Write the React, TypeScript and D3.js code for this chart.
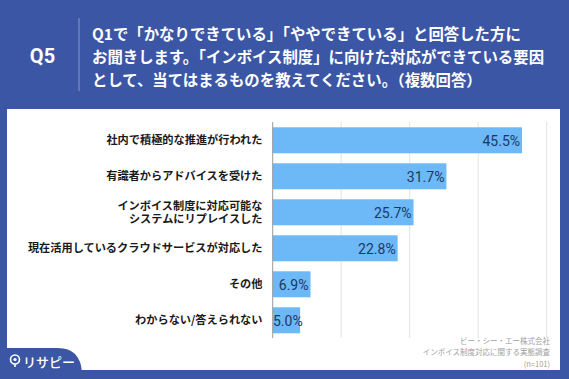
import React from "react";
import * as d3 from "d3";

const categories = [
  ["社内で積極的な推進が行われた"],
  ["有識者からアドバイスを受けた"],
  ["インボイス制度に対応可能な", "システムにリプレイスした"],
  ["現在活用しているクラウドサービスが対応した"],
  ["その他"],
  ["わからない/答えられない"],
];
const values = [45.5, 31.7, 25.7, 22.8, 6.9, 5.0];
const gridTicks = [12.5, 25, 37.5, 50];
const questionLines = [
  "Q1で「かなりできている」「ややできている」と回答した方に",
  "お聞きします。「インボイス制度」に向けた対応ができている要因",
  "として、当てはまるものを教えてください。（複数回答）",
];
const sourceLines = ["ビー・シー・エー株式会社", "インボイス制度対応に関する実態調査", "(n=101)"];

const W = 569;
const H = 379;
const BLUE = "#3b56a5";
const JP = "'Noto Sans CJK JP', 'Noto Sans', sans-serif";

export default function App() {
  const x = d3.scaleLinear().domain([0, 50]).range([272.7, 546.7]);
  const y = d3
    .scaleBand<number>()
    .domain(d3.range(values.length))
    .range([122.3, 338.3])
    .paddingInner(10 / 36)
    .paddingOuter(5 / 36);
  const bw = y.bandwidth();
  const tabPath = `M0,348 L58,348 Q80,348 82,372 L0,372 Z`;
  return (
    <svg width={W} height={H} style={{ position: "absolute", left: 0, top: 0 }}>
      <rect x={0} y={0} width={W} height={H} fill={BLUE} />
      <rect x={7} y={109} width={553} height={261} fill="#ffffff" />
      {/* header */}
      <text x={42.5} y={56} fill="#fff" fontFamily="Roboto, 'Noto Sans', sans-serif" fontWeight={700} fontSize={20} textAnchor="middle" dominantBaseline="central">
        Q5
      </text>
      <line x1={79} x2={79} y1={18} y2={91} stroke="#7d8fc6" strokeWidth={1.2} />
      {questionLines.map((l, i) => (
        <text key={i} x={92} y={33 + i * 23} fill="#fff" fontFamily={JP} fontWeight={700} fontSize={15.4} dominantBaseline="central">
          {l}
        </text>
      ))}
      {/* grid */}
      {gridTicks.map((t) => (
        <line key={t} x1={x(t)} x2={x(t)} y1={122} y2={338} stroke="#e2e2e2" strokeWidth={1} />
      ))}
      {/* bars */}
      {values.map((v, i) => {
        const y0 = y(i)!;
        const xe = x(v);
        const tx = Math.max(xe - 2, x(0) + 30);
        const n = categories[i].length;
        return (
          <g key={i}>
            <rect x={x(0)} y={y0} width={xe - x(0)} height={bw} fill="#6db8f6" />
            <text x={tx} y={y0 + bw / 2 + 1} fill="#1c3766" fontFamily="Roboto, 'Noto Sans', sans-serif" fontSize={14} textAnchor="end" dominantBaseline="central">
              {v.toFixed(1)}%
            </text>
            <text
              x={262.5}
              y={y0 + bw / 2 + 4 - ((n - 1) / 2) * 13.5}
              fill="#1a1a1a"
              fontFamily={JP}
              fontWeight={700}
              fontSize={11.2}
              textAnchor="end"
            >
              {categories[i].map((l, j) => (
                <tspan key={j} x={262.5} dy={j === 0 ? 0 : 13.5}>
                  {l}
                </tspan>
              ))}
            </text>
          </g>
        );
      })}
      <line x1={x(0)} x2={x(0)} y1={122} y2={338} stroke="#9a9a9a" strokeWidth={1} />
      {/* source */}
      {sourceLines.map((l, i) => (
        <text key={i} x={550} y={340 + i * 11.5} fill="#a0a0a0" fontFamily={JP} fontSize={7.5} textAnchor="end" dominantBaseline="central">
          {l}
        </text>
      ))}
      {/* logo tab */}
      <path d={tabPath} fill={BLUE} />
      <g transform="translate(15,361)">
        <circle cx={0} cy={-1.5} r={4.5} fill="none" stroke="#fff" strokeWidth={1.6} />
        <circle cx={0} cy={-1.5} r={1.6} fill="#fff" />
        <line x1={0} x2={0} y1={3} y2={6} stroke="#fff" strokeWidth={1.6} />
      </g>
      <text x={23} y={361} fill="#fff" fontFamily={JP} fontWeight={500} fontSize={13} dominantBaseline="central">
        リサピー
      </text>
    </svg>
  );
}
